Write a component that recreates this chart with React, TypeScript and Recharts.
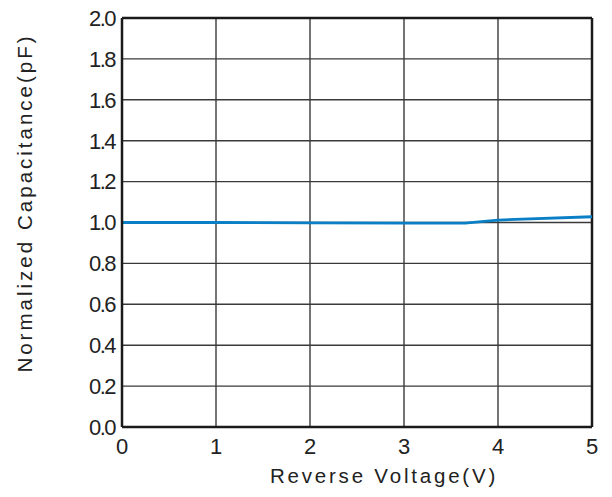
import React from "react";
import { LineChart, Line, XAxis, YAxis, CartesianGrid, ReferenceLine, Label } from "recharts";

const voltages = [0, 1, 2, 3, 3.65, 4, 5];
const capacitance = [1.0, 1.0, 0.998, 0.997, 0.997, 1.012, 1.028];
const xTicks = [0, 1, 2, 3, 4, 5];
const yTicks = [0, 0.2, 0.4, 0.6, 0.8, 1.0, 1.2, 1.4, 1.6, 1.8, 2.0];
const xTitle = "Reverse Voltage(V)";
const yTitleA = "Normalized";
const yTitleB = "Capacitance(pF)";

const data = voltages.map((v, i) => ({ v, c: capacitance[i] }));

const FONT = "'Liberation Sans', Arial, sans-serif";

export default function App() {
  return (
    <div style={{ position: "absolute", left: 0, top: 0, background: "#fff" }}>
      <LineChart
        width={612}
        height={497}
        data={data}
        margin={{ top: 18, right: 20, bottom: 0, left: 0 }}
      >
        <CartesianGrid stroke="#3a3a3a" strokeWidth={1.4} />
        <XAxis
          dataKey="v"
          type="number"
          domain={[0, 5]}
          ticks={xTicks}
          height={70}
          stroke="#1a1a1a"
          strokeWidth={2.5}
          tickSize={0}
          tickMargin={11}
          tick={{ fill: "#222", fontSize: 22, fontFamily: FONT }}
        >
          <Label
            content={() => (
              <text
                x={384}
                y={483}
                textAnchor="middle"
                fill="#222"
                fontSize={20.5}
                fontFamily={FONT}
                letterSpacing={2.8}
              >
                {xTitle}
              </text>
            )}
          />
        </XAxis>
        <YAxis
          type="number"
          domain={[0, 2]}
          ticks={yTicks}
          width={122}
          stroke="#1a1a1a"
          strokeWidth={2.5}
          tickSize={0}
          tickMargin={7}
          tickFormatter={(t: number) => t.toFixed(1)}
          tick={{ fill: "#222", fontSize: 22, fontFamily: FONT, letterSpacing: -1.5 }}
        >
          <Label
            content={() => (
              <text
                x={32}
                y={203}
                transform="rotate(-90 32 203)"
                textAnchor="middle"
                fill="#222"
                fontSize={20.5}
                fontFamily={FONT}
                letterSpacing={3}
              >
                {yTitleA}
                <tspan dx={9}>{yTitleB}</tspan>
              </text>
            )}
          />
        </YAxis>
        <ReferenceLine y={2} stroke="#1a1a1a" strokeWidth={2.5} />
        <ReferenceLine x={5} stroke="#1a1a1a" strokeWidth={2.5} />
        <Line
          type="linear"
          dataKey="c"
          stroke="#0a7fc6"
          strokeWidth={2.8}
          dot={false}
          isAnimationActive={false}
        />
      </LineChart>
    </div>
  );
}
